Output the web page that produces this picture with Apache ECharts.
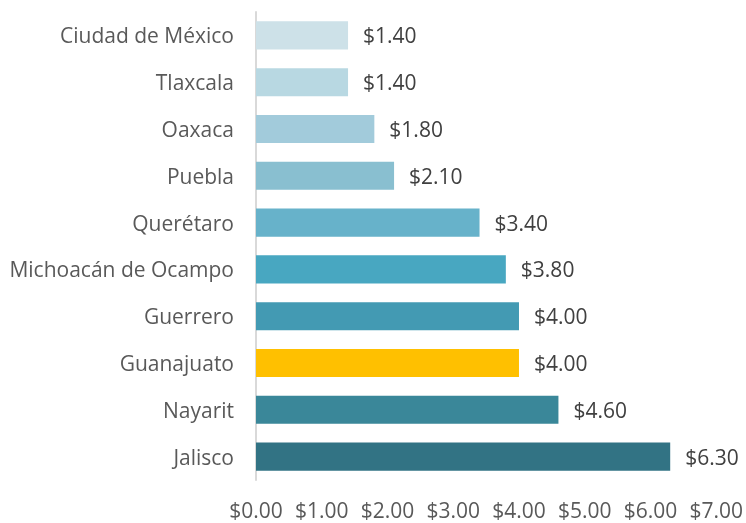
<!DOCTYPE html>
<html>
<head>
<meta charset="utf-8">
<script src="https://cdn.jsdelivr.net/npm/echarts@6/dist/echarts.min.js"></script>
<style>
  html, body { margin: 0; padding: 0; background: #fff; }
  #chart { width: 746px; height: 523px; }
</style>
</head>
<body>
<div id="chart"></div>
<script>
  // estados, de arriba hacia abajo
  const estados = ['Ciudad de México', 'Tlaxcala', 'Oaxaca', 'Puebla', 'Querétaro',
    'Michoacán de Ocampo', 'Guerrero', 'Guanajuato', 'Nayarit', 'Jalisco']
  const valores = [1.4, 1.4, 1.8, 2.1, 3.4, 3.8, 4.0, 4.0, 4.6, 6.3]
  const colores = ['#cde1e8', '#b8d8e2', '#a2cbdb', '#89bfd0', '#67b2ca',
    '#48a7c1', '#439ab3', '#ffc000', '#3a8799', '#327384']
  const ticksX = [0, 1, 2, 3, 4, 5, 6, 7]

  const fuente = 'Open Sans'
  let chart = echarts.init(document.getElementById('chart'))
  chart.setOption({
    animation: false,
    grid: {
      left: 256,
      right: 29,
      top: 12,
      bottom: 41
    },
    xAxis: {
      type: 'value',
      min: ticksX[0],
      max: ticksX[ticksX.length - 1],
      interval: 1,
      splitLine: { show: false },
      axisLine: { show: false },
      axisTick: { show: false },
      axisLabel: {
        color: '#595959',
        fontFamily: fuente,
        fontSize: 21,
        margin: 22,
        formatter: v => '$' + v.toFixed(2)
      }
    },
    yAxis: {
      type: 'category',
      inverse: true,
      data: estados,
      axisLine: { show: true, lineStyle: { color: '#d9d9d9', width: 2 } },
      axisTick: { show: false },
      axisLabel: {
        margin: 22,
        formatter: v => '{e|' + v + '}',
        rich: {
          e: {
            color: '#595959',
            fontFamily: fuente,
            fontSize: 21,
            padding: [4, 0, 0, 0]
          }
        }
      }
    },
    series: [
      {
        type: 'bar',
        barWidth: '60%',
        data: valores.map((v, i) => ({ value: v, itemStyle: { color: colores[i] } })),
        label: {
          show: true,
          position: 'right',
          distance: 15,
          offset: [0, 2],
          color: '#404040',
          fontFamily: fuente,
          fontSize: 21,
          formatter: p => '$' + p.value.toFixed(2)
        }
      }
    ]
  })
</script>
</body>
</html>
